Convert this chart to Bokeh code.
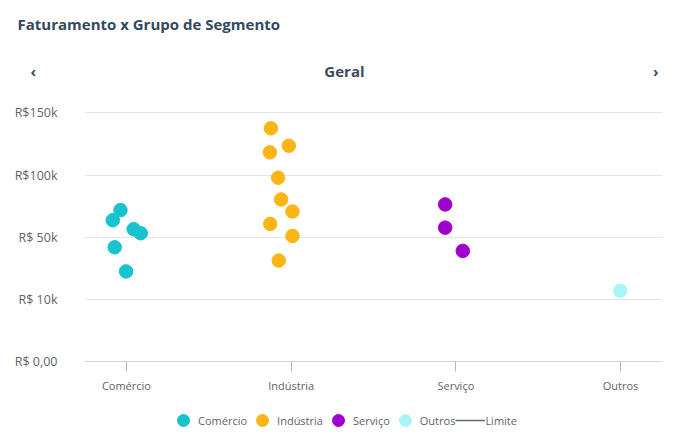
import numpy as np
from bokeh.plotting import figure
from bokeh.layouts import column
from bokeh.models import Range1d, FixedTicker, Legend, LegendItem, ColumnDataSource, Title
from bokeh.embed import file_html
from bokeh.resources import INLINE

# ---- data ----
categories = ["Comércio", "Indústria", "Serviço", "Outros"]
tick_values = [0, 10000, 50000, 100000, 150000]
tick_labels = ["R$ 0,00", "R$ 10k", "R$ 50k", "R$100k", "R$150k"]

comercio_vals = [71800, 63700, 56500, 53200, 43500, 28000]
comercio_jit = [-0.036, -0.083, 0.044, 0.087, -0.071, -0.002]
industria_vals = [137600, 123600, 118300, 97900, 80400, 70700, 60700, 51000, 35000]
industria_jit = [-0.123, -0.014, -0.129, -0.079, -0.061, 0.008, -0.127, 0.008, -0.075]
servico_vals = [76400, 57700, 41200]
servico_jit = [-0.065, -0.065, 0.042]
outros_vals = [15600]
outros_jit = [-0.002]

title_text = "Faturamento x Grupo de Segmento"
subtitle_text = "Geral"
limit_label = "Limite"

colors = ["#17C3CE", "#FDB515", "#A000CC", "#A8F5F8"]
limit_color = "#5a6b7b"
series = [comercio_vals, industria_vals, servico_vals, outros_vals]
jitters = [comercio_jit, industria_jit, servico_jit, outros_jit]

FONT = "Open Sans"
NB = "\u00a0"

# ---- main chart ----
p = figure(width=680, height=400, output_backend="svg", toolbar_location=None,
           x_range=Range1d(-0.2545, 3.2545), y_range=Range1d(0, 4.2),
           min_border_left=84, min_border_right=18, min_border_top=100, min_border_bottom=39)
p.outline_line_color = None

nav = Title(text="‹" + NB * 74 + subtitle_text + NB * 74 + "›", align="left", offset=-54,
            text_font=FONT, text_font_style="bold", text_font_size="15px",
            text_color="#3d4b59", standoff=40)
p.add_layout(nav, "above")
ttl = Title(text=title_text, align="left", offset=-67, text_font=FONT,
            text_font_style="bold", text_font_size="15px", text_color="#34495e", standoff=9)
p.add_layout(ttl, "above")

ticks_idx = list(range(len(tick_values)))
p.yaxis.ticker = FixedTicker(ticks=ticks_idx)
p.yaxis.major_label_overrides = {i: lab for i, lab in zip(ticks_idx, tick_labels)}
p.yaxis.axis_line_color = None
p.yaxis.major_tick_line_color = None
p.yaxis.minor_tick_line_color = None
p.yaxis.major_label_standoff = 21
p.yaxis.major_label_text_font = FONT
p.yaxis.major_label_text_font_size = "12.5px"
p.yaxis.major_label_text_color = "#5f6368"

p.xaxis.ticker = FixedTicker(ticks=list(range(len(categories))))
p.xaxis.major_label_overrides = {i: c for i, c in enumerate(categories)}
p.xaxis.axis_line_color = "#cfd8dc"
p.xaxis.major_tick_line_color = "#b0b8bf"
p.xaxis.major_tick_out = 10
p.xaxis.major_tick_in = 0
p.xaxis.minor_tick_line_color = None
p.xaxis.major_label_standoff = 6
p.xaxis.major_label_text_font = FONT
p.xaxis.major_label_text_font_size = "11px"
p.xaxis.major_label_text_color = "#5f6368"

p.xgrid.grid_line_color = None
p.ygrid.grid_line_color = "#e3e6e8"
p.ygrid.ticker = FixedTicker(ticks=ticks_idx)

for i, (vals, jit, col) in enumerate(zip(series, jitters, colors)):
    ypos = np.interp(vals, tick_values, ticks_idx)
    xpos = np.array(jit) + i
    src = ColumnDataSource(dict(x=xpos, y=ypos))
    p.scatter("x", "y", source=src, size=13.5, fill_color=col, line_color=col)

# ---- legend strip (proxy renderers carry no visible data) ----
lg = figure(width=680, height=37, output_backend="svg", toolbar_location=None,
            x_range=Range1d(0, 1), y_range=Range1d(0, 1),
            min_border_left=84, min_border_right=18, min_border_top=0, min_border_bottom=0)
lg.axis.visible = False
lg.grid.grid_line_color = None
lg.outline_line_color = None

items = []
for name, col in zip(categories, colors):
    r = lg.scatter(x=[np.nan], y=[np.nan], size=13.5, fill_color=col, line_color=col)
    items.append(LegendItem(label=name, renderers=[r]))
lim = lg.line(x=[np.nan, np.nan], y=[np.nan, np.nan], line_color=limit_color, line_width=1.5)
items.append(LegendItem(label=limit_label, renderers=[lim]))

legend = Legend(items=items, orientation="horizontal", location=(84, 2),
                glyph_width=30, glyph_height=30, label_standoff=0, spacing=0,
                padding=0, margin=0, border_line_color=None, background_fill_alpha=0,
                label_text_font=FONT, label_text_font_size="11px", label_text_color="#5f6368")
lg.add_layout(legend, "center")

layout = column(p, lg, spacing=0)
open("out.html", "w").write(file_html(layout, INLINE))
